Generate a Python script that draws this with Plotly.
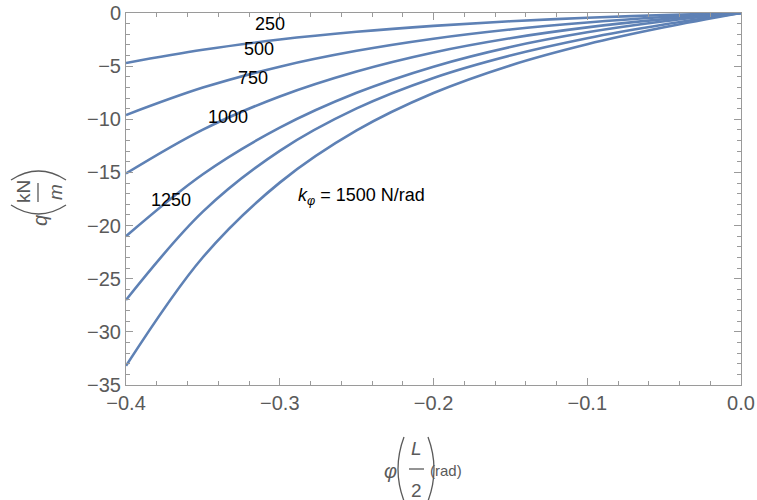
import plotly.graph_objects as go

# ---- data ----
phi = [-0.4, -0.35, -0.3, -0.25, -0.2, -0.15, -0.1, -0.05, 0.0]
q_250 = [-4.70, -3.46, -2.50, -1.77, -1.21, -0.78, -0.45, -0.19, 0.0]
q_500 = [-9.60, -7.02, -5.05, -3.56, -2.42, -1.55, -0.89, -0.38, 0.0]
q_750 = [-15.10, -10.97, -7.85, -5.50, -3.71, -2.37, -1.35, -0.58, 0.0]
q_1000 = [-21.0, -15.17, -10.79, -7.51, -5.05, -3.20, -1.82, -0.78, 0.0]
q_1250 = [-27.0, -18.69, -12.97, -8.98, -6.11, -4.0, -2.37, -1.08, 0.0]
q_1500 = [-33.2, -22.98, -15.96, -11.05, -7.53, -4.93, -2.94, -1.35, 0.0]
curve_labels = ["250", "500", "750", "1000", "1250",
                "<i>k</i><sub><i>φ</i></sub> = 1500 N/rad"]
label_x = [-0.3063, -0.3137, -0.3176, -0.3336, -0.3707, -0.2466]
label_y = [-0.99, -3.43, -6.1, -9.8, -17.6, -17.3]
x_ticks = [-0.4, -0.3, -0.2, -0.1, 0.0]
y_ticks = [0, -5, -10, -15, -20, -25, -30, -35]

series = [q_250, q_500, q_750, q_1000, q_1250, q_1500]

LINE = "#5E81B5"
FRAME = "#9a9a9a"
TXT = "#5a5a5a"
FONT = "Liberation Sans, Arial, sans-serif"

W, H = 757, 500
L, T = 126, 13
R = W - 741
B = H - 385
PW, PH = W - L - R, H - T - B


def px(x):
    return (x - L) / PW


def py(y):
    return (H - B - y) / PH


fig = go.Figure()
for s in series:
    fig.add_trace(go.Scatter(x=phi, y=s, mode="lines",
                             line=dict(color=LINE, width=2.6, shape="spline", smoothing=1.0),
                             hoverinfo="skip", showlegend=False))

ax_common = dict(showline=True, linecolor=FRAME, linewidth=1, mirror="ticks",
                 ticks="inside", ticklen=7, tickcolor=FRAME, tickwidth=1,
                 showgrid=False, zeroline=False, automargin=False,
                 ticklabeloverflow="allow",
                 tickfont=dict(family=FONT, size=20, color=TXT))

fig.update_xaxes(range=[-0.4, 0.0], tickvals=x_ticks, tickformat=".1f",
                 minor=dict(ticks="inside", dtick=0.02, ticklen=4, tickcolor=FRAME, showgrid=False),
                 **ax_common)
fig.update_yaxes(range=[-35, 0], tickvals=y_ticks,
                 minor=dict(ticks="inside", dtick=1, ticklen=4, tickcolor=FRAME, showgrid=False),
                 **ax_common)

ann = []
for xx, yy, t in zip(label_x, label_y, curve_labels):
    ann.append(dict(x=xx, y=yy, xref="x", yref="y", text=t, showarrow=False,
                    font=dict(family=FONT, size=18, color="black"),
                    xanchor="center", yanchor="middle"))


def pa(x, y, text, size=20, angle=0, color=TXT):
    ann.append(dict(x=px(x), y=py(y), xref="paper", yref="paper", text=text,
                    showarrow=False, textangle=angle, xanchor="center", yanchor="middle",
                    font=dict(family=FONT, size=size, color=color)))


# y axis title: q( kN / m )
pa(40, 221, "<i>q</i>", 20, -90)
pa(23, 192, "kN", 19, -90)
pa(55, 192, "<i>m</i>", 19, -90)

# x axis title: phi( L / 2 )(rad)
pa(390, 471, "<i>φ</i>", 20)
pa(416, 448, "<i>L</i>", 19)
pa(416, 490, "2", 19)
pa(446, 470, "(rad)", 15)


def path(points):
    (x0, y0), (xc, yc), (x1, y1) = points
    return (f"M {px(x0):.5f},{py(y0):.5f} Q {px(xc):.5f},{py(yc):.5f} "
            f"{px(x1):.5f},{py(y1):.5f}")


pen = dict(color=TXT, width=1.3)
shapes = [
    # fraction bars
    dict(type="line", xref="paper", yref="paper", x0=px(38), x1=px(38), y0=py(183), y1=py(202), line=pen),
    dict(type="line", xref="paper", yref="paper", x0=px(409), x1=px(424), y0=py(469), y1=py(469), line=pen),
    # y-title parentheses
    dict(type="path", xref="paper", yref="paper", path=path([(11, 205), (38.5, 223), (66, 205)]), line=pen),
    dict(type="path", xref="paper", yref="paper", path=path([(11, 180), (38.5, 162), (66, 180)]), line=pen),
    # x-title parentheses
    dict(type="path", xref="paper", yref="paper", path=path([(404, 437), (392, 469), (404, 501)]), line=pen),
    dict(type="path", xref="paper", yref="paper", path=path([(428, 437), (440, 469), (428, 501)]), line=pen),
]

fig.update_layout(width=W, height=H, margin=dict(l=L, r=R, t=T, b=B, autoexpand=False),
                  paper_bgcolor="white", plot_bgcolor="white",
                  annotations=ann, shapes=shapes)

fig.write_html("out.html", config={"displayModeBar": False},
               post_script="document.body.style.margin='0px';document.body.style.overflow='hidden';")
